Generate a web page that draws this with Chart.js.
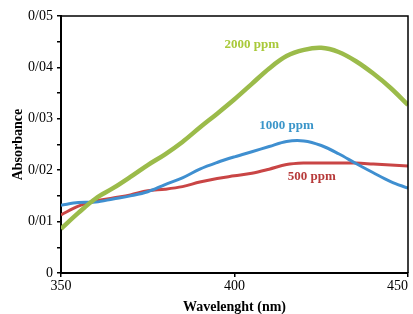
<!DOCTYPE html>
<html>
<head>
<meta charset="utf-8">
<script src="https://cdn.jsdelivr.net/npm/chart.js@4/dist/chart.umd.min.js"></script>
<style>
  html, body { margin: 0; padding: 0; background: #fff; }
  #wrap { width: 413px; height: 314px; }
</style>
</head>
<body>
<div id="wrap"><canvas id="chart" width="413" height="314"></canvas></div>
<script>
// wavelength (nm) and absorbance
const wavelengths = [350, 355, 360, 365, 370, 375, 380, 385, 390, 395, 400, 405, 410, 415, 420, 425, 430, 435, 440, 445, 450];
const ppm2000 = [0.0086, 0.0117, 0.0145, 0.0165, 0.0187, 0.0210, 0.0231, 0.0255, 0.0283, 0.0310, 0.0338, 0.0368, 0.0398, 0.0422, 0.0434, 0.0438, 0.0430, 0.0412, 0.0388, 0.0360, 0.0327];
const ppm1000 = [0.0132, 0.0137, 0.0138, 0.0144, 0.0150, 0.0158, 0.0172, 0.0185, 0.0202, 0.0215, 0.0226, 0.0236, 0.0246, 0.0256, 0.0257, 0.0248, 0.0232, 0.0213, 0.0195, 0.0178, 0.0165];
const ppm500 = [0.0113, 0.0130, 0.0140, 0.0146, 0.0152, 0.0160, 0.0163, 0.0168, 0.0177, 0.0184, 0.0189, 0.0194, 0.0202, 0.0211, 0.0214, 0.0214, 0.0214, 0.0214, 0.0212, 0.0210, 0.0208];

const seriesLabels = ['2000 ppm', '1000 ppm', '500 ppm'];
// where each series name sits, in data units [nm, absorbance]
const labelSpots = [[405, 0.0445], [415, 0.0286], [422.3, 0.0187]];
const labelColors = ['#a9c93a', '#3a95c9', '#b73a3a'];

const serif = '"Liberation Serif", "Times New Roman", serif';

function toPoints(values) {
  return wavelengths.map((w, i) => ({ x: w, y: values[i] }));
}

const frameAndLabels = {
  id: 'frameAndLabels',
  afterDatasetsDraw(chart) {
    const ctx = chart.ctx;
    const a = chart.chartArea;
    ctx.save();
    ctx.strokeStyle = '#000';
    ctx.lineWidth = 1.5;
    ctx.beginPath();
    ctx.moveTo(a.left, a.top);
    ctx.lineTo(a.right, a.top);
    ctx.lineTo(a.right, a.bottom);
    ctx.stroke();

    ctx.font = 'bold 13px ' + serif;
    ctx.textAlign = 'center';
    ctx.textBaseline = 'middle';
    seriesLabels.forEach((txt, i) => {
      const px = chart.scales.x.getPixelForValue(labelSpots[i][0]);
      const py = chart.scales.y.getPixelForValue(labelSpots[i][1]);
      ctx.fillStyle = labelColors[i];
      ctx.fillText(txt, px, py);
    });
    ctx.restore();
  }
};

new Chart(document.getElementById('chart'), {
  type: 'line',
  data: {
    datasets: [
      { label: seriesLabels[0], data: toPoints(ppm2000), borderColor: '#9bbb4a', borderWidth: 4.5, pointRadius: 0, tension: 0.35 },
      { label: seriesLabels[1], data: toPoints(ppm1000), borderColor: '#3f8fd0', borderWidth: 3, pointRadius: 0, tension: 0.35 },
      { label: seriesLabels[2], data: toPoints(ppm500), borderColor: '#c94545', borderWidth: 3, pointRadius: 0, tension: 0.35 }
    ]
  },
  options: {
    responsive: false,
    animation: false,
    layout: { padding: { top: 16, right: 5, left: 0, bottom: 0 } },
    plugins: { legend: { display: false }, tooltip: { enabled: false } },
    scales: {
      x: {
        type: 'linear',
        min: 350,
        max: 450,
        afterFit(scale) {
          scale.height = 41;
          scale.paddingLeft = 0;
          scale.paddingRight = 0;
        },
        ticks: {
          stepSize: 50,
          color: '#000',
          padding: 1,
          font: { family: serif, size: 14 },
          // last label sits inside the canvas, as in the original
          callback(v) { return v === 450 ? '450      ' : String(v); }
        },
        grid: { drawOnChartArea: false, tickLength: 4, color: '#000', lineWidth: 1.5 },
        border: { display: true, color: '#000', width: 2 },
        title: { display: true, text: 'Wavelenght (nm)', color: '#000', padding: { top: 0, bottom: 0 }, font: { family: serif, size: 14, weight: 'bold', lineHeight: 1 } }
      },
      y: {
        min: 0,
        max: 0.05,
        afterFit(scale) {
          scale.width = 61;
          scale.paddingTop = 0;
          scale.paddingBottom = 0;
        },
        ticks: {
          stepSize: 0.005,
          color: '#000',
          padding: 4,
          font: { family: serif, size: 14 },
          callback(v) {
            const r = Math.round(v * 1000);
            if (r % 10 !== 0) return '';
            return r === 0 ? '0' : (r / 1000).toFixed(2).replace('.', '/');
          }
        },
        grid: { drawOnChartArea: false, tickLength: 4, color: '#000', lineWidth: 1.5 },
        border: { display: true, color: '#000', width: 2 },
        title: { display: true, text: 'Absorbance', color: '#000', padding: { top: 10, bottom: 0 }, font: { family: serif, size: 14, weight: 'bold' } }
      }
    }
  },
  plugins: [frameAndLabels]
});
</script>
</body>
</html>
